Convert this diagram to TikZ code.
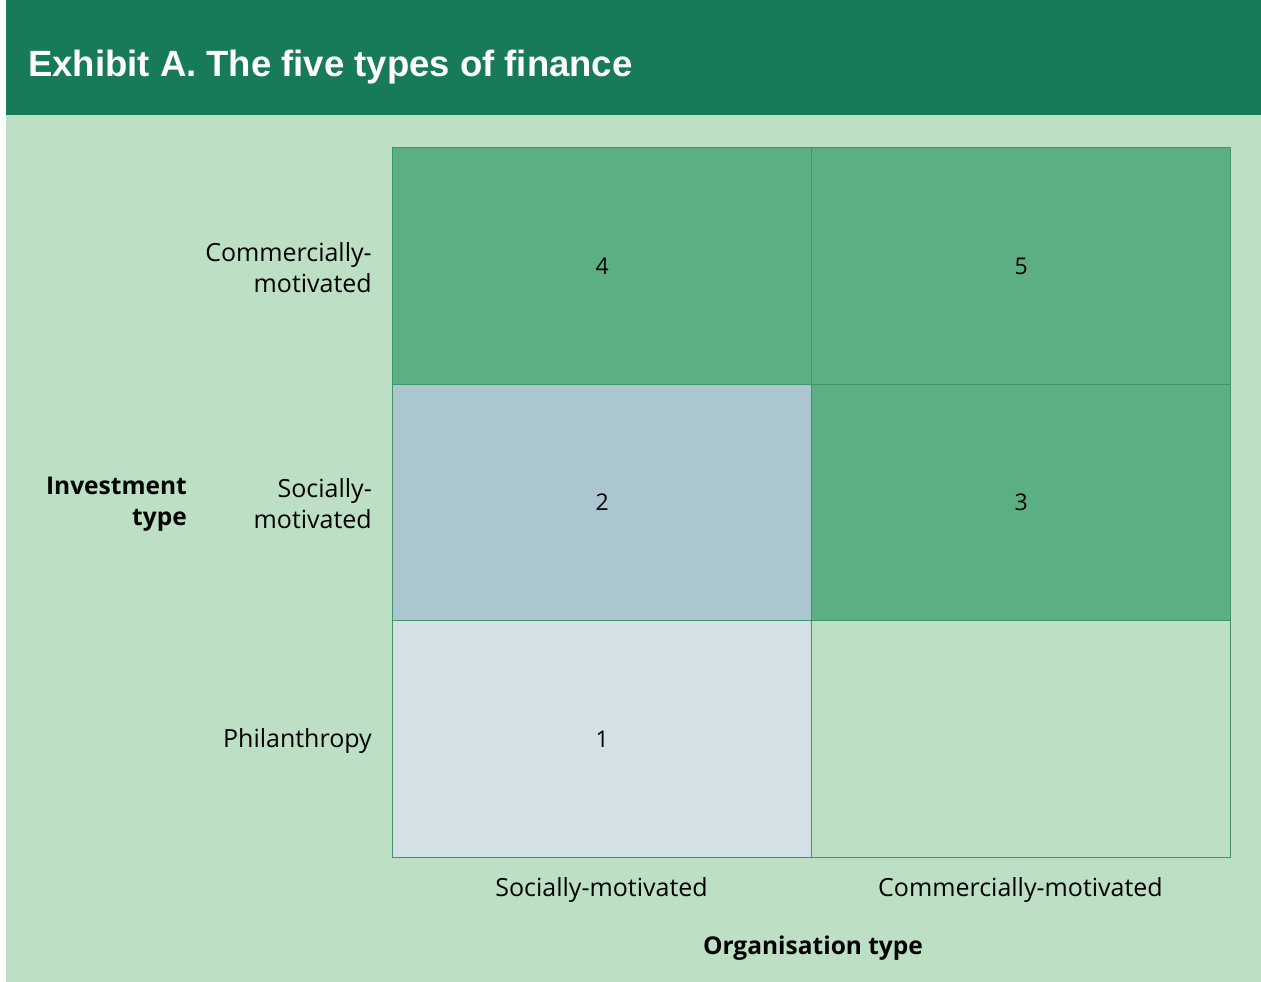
\documentclass[tikz,border=0pt]{standalone}
\usepackage{fontspec}
\setmainfont{Open Sans}
\newfontfamily\titlefont{Liberation Sans}
\definecolor{headgreen}{RGB}{24,123,88}
\definecolor{panelgreen}{RGB}{189,223,196}
\definecolor{cellgreen}{RGB}{91,175,130}
\definecolor{cellslate}{RGB}{171,198,206}
\definecolor{cellpale}{RGB}{211,224,229}
\definecolor{gridline}{RGB}{62,150,104}
\tikzset{
  cell/.style={draw=gridline, line width=1.4pt, anchor=north west, inner sep=0pt,
    minimum width=419pt, minimum height=236.5pt, font=\fontsize{23}{26}\selectfont},
  rowlabel/.style={anchor=east, align=right, inner sep=0pt, font=\fontsize{25}{31}\selectfont},
  axislabel/.style={inner sep=0pt, font=\fontsize{24.5}{31}\selectfont\bfseries},
  collabel/.style={inner sep=0pt, font=\fontsize{25}{31}\selectfont}
}
\begin{document}
\begin{tikzpicture}[x=1pt, y=-1pt]
  \useasboundingbox (0,0) rectangle (1261,982);
  % page, panel body and header band
  \fill[white] (0,0) rectangle (1261,982);
  \fill[panelgreen] (6,0) rectangle (1261,982);
  \fill[headgreen] (6,0) rectangle (1261,115);
  \node[anchor=base west, inner sep=0pt, text=white,
        font=\titlefont\fontsize{36.5}{42}\selectfont\bfseries]
    (title) at (28,77) {Exhibit A. The five types of finance};

  % matrix cells
  \node[cell, fill=cellgreen] (c4) at (392,147) {4};
  \node[cell, fill=cellgreen] (c5) at (811,147) {5};
  \node[cell, fill=cellslate] (c2) at (392,383.5) {2};
  \node[cell, fill=cellgreen] (c3) at (811,383.5) {3};
  \node[cell, fill=cellpale]  (c1) at (392,620) {1};
  \node[cell, fill=panelgreen] (c0) at (811,620) {};

  % row labels
  \node[rowlabel] (rcom) at (372,268) {Commercially-\\motivated};
  \node[rowlabel] (rsoc) at (372,504) {Socially-\\motivated};
  \node[rowlabel] (rphi) at (372,741) {Philanthropy};
  \node[axislabel, anchor=east, align=right] (inv) at (187,504) {Investment\\type};

  % column labels
  \node[collabel] (lsoc) at (601.5,890) {Socially-motivated};
  \node[collabel] (lcom) at (1020.5,890) {Commercially-motivated};
  \node[axislabel] (org) at (813,948) {Organisation type};
\end{tikzpicture}
\end{document}
